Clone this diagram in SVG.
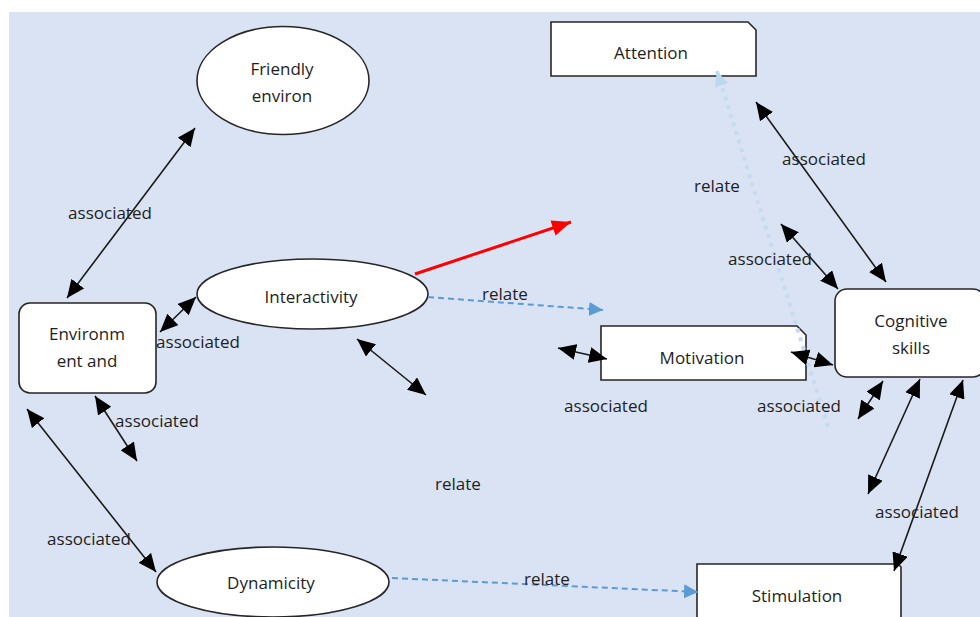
<svg xmlns="http://www.w3.org/2000/svg" width="980" height="617" viewBox="0 0 980 617">
<defs>
<style>
.node{fill:#fff;stroke:#262626;stroke-width:1.6}
.t{font-family:"Open Sans","Noto Sans","Liberation Sans",sans-serif;font-size:17px;fill:#1e1e1e;text-anchor:middle;dominant-baseline:central}
.lbl{font-family:"Open Sans","Noto Sans","Liberation Sans",sans-serif;font-size:17px;fill:#1e1e1e;text-anchor:middle;dominant-baseline:central}
.assoc{stroke:#1a1a1a;stroke-width:1.6;fill:none;marker-start:url(#ah);marker-end:url(#ah)}
.rel{stroke:#5b9bd5;stroke-width:2;stroke-dasharray:6,4;fill:none;marker-end:url(#bh)}
</style>
<marker id="ah" markerUnits="userSpaceOnUse" markerWidth="19" markerHeight="16" refX="18" refY="8" orient="auto-start-reverse"><path d="M0,0 L18,8 L0,16 z" fill="#000"/></marker>
<marker id="bh" markerUnits="userSpaceOnUse" markerWidth="15" markerHeight="14" refX="14" refY="7" orient="auto"><path d="M0,0 L14,7 L0,14 z" fill="#5b9bd5"/></marker>
<marker id="rh" markerUnits="userSpaceOnUse" markerWidth="20" markerHeight="16" refX="19" refY="8" orient="auto"><path d="M0,0 L19,8 L0,16 z" fill="#ff0000"/></marker>
<marker id="lh" markerUnits="userSpaceOnUse" markerWidth="16" markerHeight="14" refX="15" refY="7" orient="auto"><path d="M0,0 L15,7 L0,14 z" fill="#bdd7ee"/></marker>
</defs>
<rect x="0" y="0" width="980" height="617" fill="#fff"/>
<rect x="9" y="12" width="971" height="605" fill="#dae3f3"/>

<g id="friendly">
<ellipse class="node" cx="283" cy="80.5" rx="86" ry="54"/>
<text class="t" x="282" y="68">Friendly</text>
<text class="t" x="282" y="95">environ</text>
</g>
<g id="environment">
<rect class="node" x="19" y="303" width="137" height="90" rx="11"/>
<text class="t" x="87" y="333">Environm</text>
<text class="t" x="87" y="360">ent and</text>
</g>
<g id="interactivity">
<ellipse class="node" cx="312.5" cy="294" rx="115.5" ry="35"/>
<text class="t" x="311" y="296">Interactivity</text>
</g>
<g id="dynamicity">
<ellipse class="node" cx="273" cy="582" rx="116" ry="35"/>
<text class="t" x="271" y="582">Dynamicity</text>
</g>
<g id="attention">
<path class="node" d="M551,22 H748 L756,30 V76 H551 Z"/>
<text class="t" x="651" y="52">Attention</text>
</g>
<g id="motivation">
<path class="node" d="M601,326 H797 L806,335 V380 H601 Z"/>
<text class="t" x="702" y="357">Motivation</text>
</g>
<g id="cognitive">
<rect class="node" x="835" y="289" width="150" height="88" rx="12"/>
<text class="t" x="911" y="320">Cognitive</text>
<text class="t" x="911" y="347">skills</text>
</g>
<g id="stimulation">
<path class="node" d="M697,564 H898 L901,567 V625 H697 Z"/>
<text class="t" x="797" y="595">Stimulation</text>
</g>

<g id="connectors">
<line class="assoc" x1="67" y1="298" x2="195" y2="128"/>
<line class="assoc" x1="160" y1="332" x2="196" y2="297"/>
<line class="assoc" x1="95" y1="396" x2="137" y2="461"/>
<line class="assoc" x1="27" y1="409" x2="156" y2="572"/>
<line class="assoc" x1="357" y1="339" x2="426" y2="395"/>
<line x1="415" y1="274" x2="571" y2="222" stroke="#ff0000" stroke-width="3" marker-end="url(#rh)"/>
<path class="rel" d="M428,297 L603,310"/>
<path class="rel" d="M392,578 L698,592"/>
<line x1="828" y1="427" x2="717" y2="71" stroke="#c5dcf0" stroke-width="4" stroke-dasharray="4,5" marker-end="url(#lh)"/>
<line class="assoc" x1="756" y1="102" x2="886" y2="282"/>
<line class="assoc" x1="781" y1="224" x2="838" y2="289"/>
<line class="assoc" x1="558" y1="348" x2="607" y2="359"/>
<line class="assoc" x1="791" y1="352" x2="833" y2="365"/>
<line class="assoc" x1="883" y1="381" x2="858" y2="419"/>
<line class="assoc" x1="920" y1="379" x2="868" y2="494"/>
<line class="assoc" x1="963" y1="380" x2="894" y2="571"/>
<text class="lbl" x="110" y="212">associated</text>
<text class="lbl" x="198" y="341">associated</text>
<text class="lbl" x="157" y="420">associated</text>
<text class="lbl" x="89" y="538">associated</text>
<text class="lbl" x="505" y="293">relate</text>
<text class="lbl" x="458" y="483">relate</text>
<text class="lbl" x="547" y="578">relate</text>
<text class="lbl" x="717" y="185">relate</text>
<text class="lbl" x="824" y="158">associated</text>
<text class="lbl" x="770" y="258">associated</text>
<text class="lbl" x="606" y="405">associated</text>
<text class="lbl" x="799" y="405">associated</text>
<text class="lbl" x="917" y="511">associated</text>
</g>
</svg>
